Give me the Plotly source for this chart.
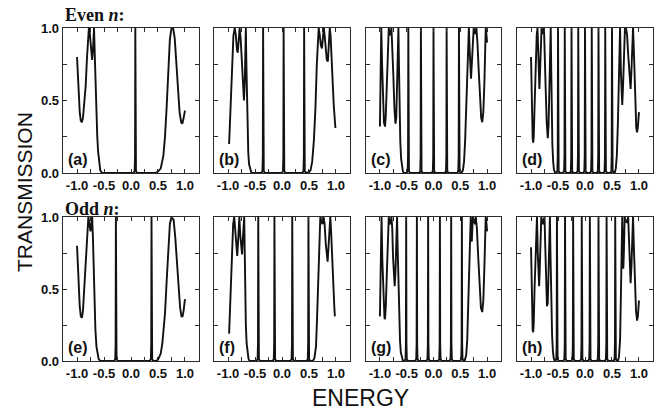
import plotly.graph_objects as go

# ---------------- data ----------------
# narrow resonance profile (offset from resonance centre, transmission)
SPIKE_DX = [-0.03, -0.012, -0.005, 0.0, 0.005, 0.012, 0.03]
SPIKE_T = [0.0, 0.015, 0.12, 1.0, 0.12, 0.015, 0.0]

a_left_x = [-1.0, -0.975, -0.95, -0.93, -0.91, -0.89, -0.865, -0.84, -0.815, -0.795, -0.78, -0.765, -0.745, -0.72, -0.70, -0.685, -0.67, -0.655, -0.64, -0.625, -0.61, -0.59, -0.57, -0.54]
a_left_y = [0.80, 0.56, 0.42, 0.36, 0.35, 0.38, 0.48, 0.60, 0.80, 0.95, 1.0, 0.97, 0.85, 0.78, 0.88, 1.0, 0.80, 0.55, 0.38, 0.25, 0.15, 0.07, 0.02, 0.0]
a_spikes = [0.08]
a_right_x = [0.45, 0.50, 0.55, 0.60, 0.63, 0.66, 0.69, 0.72, 0.75, 0.78, 0.81, 0.84, 0.87, 0.90, 0.93, 0.95, 0.97, 1.0]
a_right_y = [0.0, 0.01, 0.03, 0.12, 0.25, 0.45, 0.70, 0.92, 1.0, 1.0, 0.93, 0.78, 0.58, 0.42, 0.35, 0.34, 0.37, 0.43]

b_left_x = [-0.98, -0.96, -0.94, -0.92, -0.90, -0.875, -0.855, -0.835, -0.82, -0.805, -0.785, -0.765, -0.745, -0.725, -0.705, -0.69, -0.68, -0.67, -0.66, -0.65, -0.64, -0.625, -0.61, -0.59, -0.57, -0.55]
b_left_y = [0.20, 0.40, 0.62, 0.82, 0.95, 1.0, 0.95, 0.85, 0.83, 0.90, 1.0, 0.92, 0.78, 0.60, 0.50, 0.62, 0.85, 1.0, 0.75, 0.48, 0.28, 0.14, 0.06, 0.02, 0.005, 0.0]
b_spikes = [-0.35, 0.03, 0.41]
b_right_x = [0.46, 0.50, 0.53, 0.56, 0.59, 0.62, 0.645, 0.665, 0.68, 0.70, 0.72, 0.74, 0.76, 0.775, 0.79, 0.81, 0.83, 0.85, 0.87, 0.885, 0.90, 0.92, 0.94, 0.96, 0.98, 0.99]
b_right_y = [0.0, 0.005, 0.02, 0.08, 0.22, 0.45, 0.75, 0.95, 1.0, 0.95, 0.88, 0.86, 0.95, 1.0, 0.95, 0.85, 0.78, 0.77, 0.88, 1.0, 0.95, 0.82, 0.62, 0.46, 0.35, 0.31]

c_left_x = [-1.0, -0.99, -0.975, -0.96, -0.945, -0.925, -0.905, -0.89, -0.87, -0.85, -0.835, -0.815, -0.80, -0.785, -0.77, -0.75, -0.73, -0.71, -0.695, -0.68, -0.665, -0.655, -0.645, -0.635, -0.62, -0.605, -0.59, -0.57, -0.55]
c_left_y = [0.32, 0.65, 1.0, 0.75, 0.50, 0.35, 0.32, 0.40, 0.62, 0.87, 1.0, 0.96, 0.95, 1.0, 0.90, 0.68, 0.45, 0.34, 0.38, 0.60, 0.88, 1.0, 0.75, 0.45, 0.22, 0.10, 0.04, 0.01, 0.0]
c_spikes = [-0.47, -0.235, 0.0, 0.245, 0.475]
c_right_x = [0.52, 0.55, 0.57, 0.59, 0.61, 0.63, 0.65, 0.66, 0.675, 0.69, 0.70, 0.715, 0.735, 0.75, 0.77, 0.78, 0.80, 0.82, 0.845, 0.87, 0.89, 0.91, 0.93, 0.95, 0.965, 0.975, 0.99, 1.0]
c_right_y = [0.0, 0.02, 0.08, 0.22, 0.45, 0.72, 0.93, 1.0, 0.85, 0.68, 0.65, 0.75, 0.95, 1.0, 0.97, 0.96, 1.0, 0.90, 0.70, 0.50, 0.38, 0.35, 0.42, 0.62, 0.88, 1.0, 0.95, 0.90]

d_left_x = [-1.0, -0.99, -0.98, -0.97, -0.96, -0.95, -0.935, -0.915, -0.895, -0.88, -0.865, -0.855, -0.845, -0.835, -0.82, -0.805, -0.79, -0.775, -0.76, -0.745, -0.73, -0.71, -0.69, -0.675, -0.66, -0.645, -0.635, -0.625, -0.615, -0.605, -0.59, -0.575, -0.55]
d_left_y = [0.80, 0.55, 0.35, 0.24, 0.21, 0.25, 0.45, 0.75, 0.95, 1.0, 0.80, 0.63, 0.58, 0.68, 0.90, 1.0, 0.97, 0.96, 1.0, 0.85, 0.60, 0.35, 0.24, 0.33, 0.62, 0.90, 1.0, 0.70, 0.40, 0.20, 0.08, 0.02, 0.0]
d_spikes = [-0.50, -0.375, -0.25, -0.125, 0.0, 0.125, 0.25, 0.375, 0.50]
d_right_x = [0.55, 0.57, 0.59, 0.61, 0.625, 0.64, 0.65, 0.665, 0.68, 0.69, 0.705, 0.725, 0.74, 0.76, 0.78, 0.80, 0.825, 0.845, 0.86, 0.875, 0.89, 0.905, 0.92, 0.935, 0.95, 0.965, 0.98, 1.0]
d_right_y = [0.0, 0.03, 0.12, 0.35, 0.65, 0.92, 1.0, 0.70, 0.50, 0.47, 0.60, 0.88, 1.0, 1.0, 0.95, 0.82, 0.65, 0.58, 0.70, 0.92, 1.0, 0.85, 0.60, 0.42, 0.31, 0.28, 0.32, 0.42]

e_left_x = [-1.0, -0.975, -0.95, -0.93, -0.91, -0.89, -0.87, -0.85, -0.83, -0.81, -0.79, -0.77, -0.75, -0.735, -0.72, -0.705, -0.69, -0.675, -0.66, -0.64, -0.62, -0.60, -0.57]
e_left_y = [0.80, 0.55, 0.38, 0.31, 0.30, 0.35, 0.48, 0.65, 0.83, 0.96, 1.0, 0.95, 0.90, 0.95, 1.0, 0.85, 0.60, 0.38, 0.22, 0.10, 0.04, 0.015, 0.0]
e_spikes = [-0.28, 0.38]
e_right_x = [0.43, 0.47, 0.50, 0.55, 0.58, 0.61, 0.63, 0.66, 0.69, 0.72, 0.75, 0.79, 0.82, 0.85, 0.88, 0.91, 0.935, 0.955, 0.975, 1.0]
e_right_y = [0.0, 0.0, 0.01, 0.05, 0.12, 0.24, 0.33, 0.55, 0.78, 0.95, 1.0, 0.98, 0.86, 0.68, 0.50, 0.37, 0.31, 0.31, 0.35, 0.43]

f_left_x = [-0.98, -0.965, -0.945, -0.925, -0.905, -0.885, -0.865, -0.845, -0.83, -0.815, -0.80, -0.79, -0.775, -0.755, -0.74, -0.725, -0.71, -0.70, -0.69, -0.68, -0.67, -0.655, -0.64, -0.62, -0.60]
f_left_y = [0.19, 0.35, 0.60, 0.82, 0.95, 1.0, 0.90, 0.76, 0.73, 0.82, 0.95, 1.0, 0.88, 0.76, 0.74, 0.85, 1.0, 1.0, 0.75, 0.45, 0.25, 0.12, 0.05, 0.015, 0.0]
f_spikes = [-0.44, -0.14, 0.19, 0.49]
f_right_x = [0.53, 0.57, 0.60, 0.63, 0.65, 0.67, 0.69, 0.71, 0.73, 0.75, 0.77, 0.79, 0.81, 0.83, 0.845, 0.86, 0.88, 0.895, 0.91, 0.93, 0.95, 0.97, 0.98]
f_right_y = [0.0, 0.0, 0.02, 0.10, 0.30, 0.55, 0.82, 1.0, 0.97, 0.95, 1.0, 0.95, 0.82, 0.70, 0.69, 0.78, 0.95, 1.0, 0.90, 0.68, 0.50, 0.37, 0.31]

g_left_x = [-1.0, -0.985, -0.97, -0.955, -0.935, -0.915, -0.905, -0.89, -0.87, -0.85, -0.835, -0.815, -0.80, -0.785, -0.77, -0.755, -0.74, -0.725, -0.71, -0.695, -0.68, -0.67, -0.655, -0.64, -0.625, -0.61, -0.59, -0.57]
g_left_y = [0.31, 0.70, 1.0, 0.70, 0.42, 0.30, 0.29, 0.38, 0.62, 0.88, 1.0, 0.96, 0.95, 1.0, 0.92, 0.72, 0.56, 0.52, 0.62, 0.85, 1.0, 0.80, 0.50, 0.28, 0.14, 0.06, 0.02, 0.0]
g_spikes = [-0.51, -0.31, -0.10, 0.12, 0.33, 0.53]
g_right_x = [0.58, 0.61, 0.63, 0.65, 0.67, 0.685, 0.695, 0.705, 0.715, 0.725, 0.735, 0.76, 0.775, 0.79, 0.81, 0.835, 0.86, 0.885, 0.91, 0.93, 0.95, 0.965, 0.975, 0.99, 1.0]
g_right_y = [0.0, 0.04, 0.15, 0.40, 0.70, 0.95, 1.0, 0.85, 0.83, 0.92, 1.0, 0.97, 0.95, 1.0, 0.92, 0.72, 0.50, 0.37, 0.34, 0.42, 0.65, 0.90, 1.0, 0.95, 0.90]

h_left_x = [-1.0, -0.99, -0.98, -0.97, -0.96, -0.95, -0.935, -0.915, -0.90, -0.89, -0.875, -0.86, -0.85, -0.84, -0.825, -0.81, -0.795, -0.78, -0.765, -0.75, -0.735, -0.72, -0.705, -0.69, -0.675, -0.66, -0.65, -0.64, -0.625, -0.61, -0.595, -0.58, -0.56]
h_left_y = [0.79, 0.50, 0.30, 0.22, 0.20, 0.26, 0.50, 0.80, 0.96, 1.0, 0.75, 0.56, 0.52, 0.62, 0.88, 1.0, 0.97, 0.95, 0.98, 1.0, 0.78, 0.50, 0.38, 0.40, 0.62, 0.92, 1.0, 0.75, 0.40, 0.18, 0.07, 0.02, 0.0]
h_spikes = [-0.52, -0.37, -0.22, -0.06, 0.09, 0.25, 0.40, 0.56]
h_right_x = [0.61, 0.63, 0.65, 0.665, 0.68, 0.69, 0.70, 0.71, 0.72, 0.735, 0.76, 0.78, 0.80, 0.815, 0.83, 0.845, 0.86, 0.88, 0.89, 0.905, 0.925, 0.945, 0.965, 0.98, 1.0]
h_right_y = [0.0, 0.03, 0.15, 0.45, 0.80, 1.0, 0.75, 0.64, 0.75, 1.0, 0.97, 0.96, 1.0, 0.85, 0.62, 0.54, 0.65, 0.92, 1.0, 0.80, 0.50, 0.35, 0.28, 0.31, 0.42]

panel_labels = ["(a)", "(b)", "(c)", "(d)", "(e)", "(f)", "(g)", "(h)"]
x_tickvals = [-1.0, -0.75, -0.5, -0.25, 0.0, 0.25, 0.5, 0.75, 1.0]
x_ticktext = ["-1.0", "", "-0.5", "", "0.0", "", "0.5", "", "1.0"]
y_tickvals = [0.0, 0.25, 0.5, 0.75, 1.0]
y_ticktext = ["0.0", "", "0.5", "", "1.0"]

panels = [
    (a_left_x, a_left_y, a_spikes, a_right_x, a_right_y),
    (b_left_x, b_left_y, b_spikes, b_right_x, b_right_y),
    (c_left_x, c_left_y, c_spikes, c_right_x, c_right_y),
    (d_left_x, d_left_y, d_spikes, d_right_x, d_right_y),
    (e_left_x, e_left_y, e_spikes, e_right_x, e_right_y),
    (f_left_x, f_left_y, f_spikes, f_right_x, f_right_y),
    (g_left_x, g_left_y, g_spikes, g_right_x, g_right_y),
    (h_left_x, h_left_y, h_spikes, h_right_x, h_right_y),
]

# ---------------- layout geometry (pixels) ----------------
W, H = 663, 416
col_px = [(63, 199), (214, 350), (366, 501), (517, 653)]
row_px = [(28, 173), (217, 361)]

def px_x(p):
    return p / W

def px_y(p):
    return 1 - p / H

fig = go.Figure()
tick_font = dict(family="Liberation Sans, Arial, sans-serif", size=13, color="#111", weight="bold")
LINE = "#2a2a2a"

for i, (lx, ly, sp, rx, ry) in enumerate(panels):
    xs = list(lx)
    ys = list(ly)
    for c in sp:
        xs += [c + d for d in SPIKE_DX]
        ys += list(SPIKE_T)
    xs += list(rx)
    ys += list(ry)
    n = i + 1
    xa = "x" if n == 1 else f"x{n}"
    ya = "y" if n == 1 else f"y{n}"
    fig.add_trace(go.Scatter(x=xs, y=ys, mode="lines", xaxis=xa, yaxis=ya,
                             line=dict(color="#111", width=1.9), showlegend=False,
                             hoverinfo="skip"))
    r, cidx = divmod(i, 4)
    x0, x1 = col_px[cidx]
    y0, y1 = row_px[r]
    key = "" if n == 1 else str(n)
    fig.layout["xaxis" + key] = dict(
        domain=[px_x(x0), px_x(x1)], range=[-1.26, 1.26], anchor=ya,
        tickmode="array", tickvals=x_tickvals, ticktext=x_ticktext,
        ticks="inside", ticklen=4, tickwidth=1, tickcolor=LINE,
        showline=True, linecolor=LINE, linewidth=1.3, mirror="ticks",
        showgrid=False, zeroline=False, tickfont=tick_font, fixedrange=True,
        automargin=False)
    fig.layout["yaxis" + key] = dict(
        domain=[px_y(y1), px_y(y0)], range=[0, 1], anchor=xa,
        tickmode="array", tickvals=y_tickvals, ticktext=y_ticktext,
        showticklabels=(cidx == 0),
        ticks="inside", ticklen=4, tickwidth=1, tickcolor=LINE,
        showline=True, linecolor=LINE, linewidth=1.3, mirror="ticks",
        showgrid=False, zeroline=False, tickfont=tick_font, fixedrange=True,
        automargin=False)
    fig.add_annotation(text=panel_labels[i], xref="paper", yref="paper",
                       x=px_x(x0 + 3), y=px_y(y1 - 3), xanchor="left", yanchor="bottom",
                       showarrow=False,
                       font=dict(family="Liberation Sans, Arial, sans-serif", size=16,
                                 color="#111", weight="bold"))

serif = "Liberation Serif, Times New Roman, serif"
fig.add_annotation(text="Even <i>n</i>:", xref="paper", yref="paper",
                   x=px_x(63), y=px_y(15), xanchor="left", yanchor="middle", showarrow=False,
                   font=dict(family=serif, size=18, color="#111", weight="bold"))
fig.add_annotation(text="Odd <i>n</i>:", xref="paper", yref="paper",
                   x=px_x(63), y=px_y(209), xanchor="left", yanchor="middle", showarrow=False,
                   font=dict(family=serif, size=18, color="#111", weight="bold"))
fig.add_annotation(text="TRANSMISSION", xref="paper", yref="paper",
                   x=px_x(24), y=px_y(192), xanchor="center", yanchor="middle",
                   textangle=-90, showarrow=False,
                   font=dict(family="Liberation Sans, Arial, sans-serif", size=21, color="#111"))
fig.add_annotation(text="ENERGY", xref="paper", yref="paper",
                   x=px_x(360), y=px_y(398), xanchor="center", yanchor="middle",
                   showarrow=False,
                   font=dict(family="Liberation Sans, Arial, sans-serif", size=23, color="#111"))

fig.update_layout(width=W, height=H,
                  margin=dict(l=0, r=0, t=0, b=0, pad=0, autoexpand=False),
                  paper_bgcolor="white", plot_bgcolor="white")
fig.write_html("out.html", config={"displayModeBar": False, "staticPlot": True},
               post_script="document.body.style.margin='0';document.body.style.overflow='hidden';")
